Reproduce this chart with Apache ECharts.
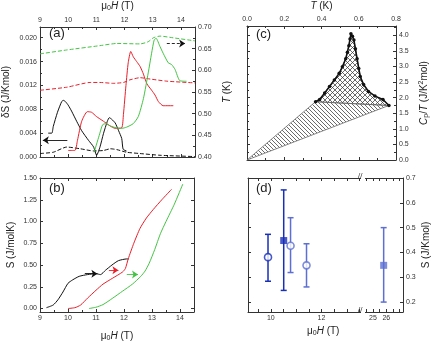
<!DOCTYPE html>
<html>
<head>
<meta charset="utf-8">
<script src="https://cdn.jsdelivr.net/npm/echarts@6.0.0/dist/echarts.min.js"></script>
<style>
html, body { margin: 0; padding: 0; background: #fff; }
#chart { width: 436px; height: 343px; }
</style>
</head>
<body>
<div id="chart"></div>
<script>
// ---- panel (a): entropy change dS (left) and sample temperature T (right) vs field
var aBlackH = [9.29, 9.42, 9.47, 9.62, 9.77, 9.83, 9.9, 10.0, 10.12, 10.3, 10.48, 10.72, 10.9, 11.01, 11.13, 11.25, 11.39, 11.46, 11.55, 11.67, 11.79, 11.9, 11.95, 12.07];
var aBlackS = [0.0040, 0.0040, 0.0051, 0.0075, 0.0093, 0.0095, 0.0093, 0.0087, 0.0077, 0.0060, 0.0044, 0.0028, 0.0017, 0.0003, 0.0017, 0.0039, 0.0060, 0.0066, 0.0063, 0.0057, 0.0044, 0.0031, 0.0013, 0.0010];
var aRedH = [10.0, 10.24, 10.33, 10.48, 10.68, 10.83, 11.0, 11.25, 11.49, 11.67, 11.9, 11.96, 12.05, 12.13, 12.22, 12.31, 12.43, 12.55, 12.67, 12.79, 12.96, 13.08, 13.2, 13.37, 13.73];
var aRedS = [0.0011, 0.0011, 0.0028, 0.0060, 0.0076, 0.0075, 0.0068, 0.0060, 0.0052, 0.0048, 0.0049, 0.0071, 0.0120, 0.0158, 0.0177, 0.0168, 0.0160, 0.0152, 0.0139, 0.0123, 0.0112, 0.0104, 0.0093, 0.0086, 0.0086];
var aGreenH = [10.92, 11.1, 11.22, 11.34, 11.5, 11.7, 11.9, 12.07, 12.31, 12.49, 12.67, 12.84, 12.96, 13.05, 13.12, 13.26, 13.37, 13.55, 13.67, 13.79, 13.96, 14.2];
var aGreenS = [0.0008, 0.0036, 0.0054, 0.0056, 0.0052, 0.0049, 0.0048, 0.0050, 0.0056, 0.0068, 0.0098, 0.0141, 0.0174, 0.0196, 0.0199, 0.0185, 0.0174, 0.0158, 0.0155, 0.0147, 0.0128, 0.0127];

var aGreenTH = [9.0, 9.95, 11.13, 11.73, 12.55, 12.84, 13.02, 13.26, 13.73, 14.5];
var aGreenT = [0.638, 0.647, 0.657, 0.662, 0.661, 0.666, 0.675, 0.679, 0.675, 0.668];
var aRedTH = [9.0, 9.95, 10.78, 11.13, 11.6, 11.96, 12.19, 12.55, 12.9, 13.5, 14.5];
var aRedT = [0.554, 0.561, 0.572, 0.572, 0.570, 0.572, 0.578, 0.583, 0.580, 0.575, 0.571];
var aBlackTH = [9.0, 9.47, 9.95, 10.43, 10.9, 11.25, 11.5, 11.73, 12.07, 12.55, 13.26, 14.5];
var aBlackT = [0.408, 0.411, 0.423, 0.419, 0.414, 0.415, 0.419, 0.417, 0.411, 0.408, 0.404, 0.401];

// ---- panel (b): integrated entropy S vs field
var bBlackH = [9.23, 9.47, 9.64, 9.82, 10.0, 10.17, 10.4, 10.7, 11.0, 11.16, 11.34, 11.57, 11.8, 12.1, 12.17];
var bBlackS = [0.01, 0.04, 0.10, 0.19, 0.29, 0.33, 0.37, 0.39, 0.40, 0.39, 0.44, 0.50, 0.55, 0.57, 0.57];
var bRedH = [10.0, 10.25, 10.45, 10.7, 11.0, 11.25, 11.6, 11.95, 12.05, 12.15, 12.35, 12.57, 12.8, 13.05, 13.35, 13.7];
var bRedS = [0.0, 0.01, 0.04, 0.12, 0.21, 0.28, 0.35, 0.42, 0.46, 0.57, 0.75, 0.92, 1.04, 1.14, 1.25, 1.37];
var bGreenH = [10.75, 11.0, 11.25, 11.6, 11.95, 12.3, 12.6, 12.75, 12.9, 13.1, 13.3, 13.5, 13.8, 14.1];
var bGreenS = [0.0, 0.015, 0.045, 0.12, 0.2, 0.28, 0.37, 0.43, 0.52, 0.68, 0.86, 1.0, 1.2, 1.43];

// ---- panel (c): Cp/T vs T around the transition
var cT = [0.368, 0.39, 0.417, 0.443, 0.469, 0.495, 0.512, 0.53, 0.539, 0.547, 0.553, 0.558, 0.566, 0.574, 0.582, 0.591, 0.600, 0.608, 0.626, 0.652, 0.687, 0.73, 0.762];
var cC = [1.87, 1.94, 2.15, 2.36, 2.57, 2.78, 2.99, 3.25, 3.46, 3.67, 3.88, 4.05, 3.97, 3.85, 3.57, 3.25, 2.94, 2.68, 2.42, 2.20, 2.05, 1.94, 1.75];
var cOrigin = [0, 0];

// ---- panel (d): entropy per field, with error bars
var dCircH = [9.89, 10.78, 11.41];
var dCircS = [0.381, 0.427, 0.348];
var dCircLo = [0.284, 0.319, 0.261];
var dCircHi = [0.473, 0.540, 0.435];
var dSqH = [10.51, 25.8];
var dSqS = [0.448, 0.348];
var dSqLo = [0.247, 0.200];
var dSqHi = [0.652, 0.500];

var bYTicks = [0, 0.25, 0.5, 0.75, 1.0, 1.25, 1.5];
var dYTicks = [0.2, 0.3, 0.4, 0.5, 0.6, 0.7];
var dXTicks1 = [10, 12];
var dXTicks2 = [25, 26];

var FONT = 'Liberation Sans';
var RED = '#e8202a', GREEN = '#44c444', BLACK = '#111';
var DARK = '#1830b8', LIGHT = '#5d6fd2';
var circColors = [DARK, LIGHT, LIGHT];
var sqColors = [DARK, LIGHT];

function zip(xs, ys) {
    return xs.map(function (x, i) { return [x, ys[i]]; });
}

function hatch(cross, size) {
    var c = document.createElement('canvas');
    c.width = size; c.height = size;
    var g = c.getContext('2d');
    g.strokeStyle = '#3a3a3a';
    g.lineWidth = 0.75;
    g.beginPath();
    g.moveTo(-1, -1); g.lineTo(size + 1, size + 1);
    g.moveTo(-1, size - 1); g.lineTo(1, size + 1);
    g.moveTo(size - 1, -1); g.lineTo(size + 1, 1);
    if (cross) {
        g.moveTo(size + 1, -1); g.lineTo(-1, size + 1);
        g.moveTo(1, -1); g.lineTo(-1, 1);
        g.moveTo(size + 1, size - 1); g.lineTo(size - 1, size + 1);
    }
    g.stroke();
    return c;
}

var tickLabel = {fontSize: 7, color: '#333', fontFamily: FONT, margin: 3};
var nameRich = {
    a: {fontSize: 10, fontFamily: FONT, color: '#222'},
    i: {fontSize: 10, fontFamily: FONT, fontStyle: 'italic', color: '#222'},
    s: {fontSize: 7, fontFamily: FONT, color: '#222', padding: [5, 0, 0, 0]},
    u: {fontSize: 7, fontFamily: FONT, color: '#222', padding: [0, 0, 5, 0]}
};
var fieldName = '{a|μ}{s|0}{i|H}{a| (T)}';

function axisBase(extra) {
    var o = {
        type: 'value',
        axisLine: {show: true, onZero: false, lineStyle: {color: '#333', width: 1}},
        axisTick: {show: true, inside: true, length: 3, lineStyle: {color: '#333'}},
        minorTick: {show: true, splitNumber: 2, length: 2, lineStyle: {color: '#333'}},
        splitLine: {show: false},
        axisLabel: Object.assign({}, tickLabel),
        nameTextStyle: {rich: nameRich, fontFamily: FONT, fontSize: 10, color: '#222'}
    };
    return Object.assign(o, extra);
}

function line(xi, yi, xs, ys, color, dashed) {
    return {
        type: 'line', xAxisIndex: xi, yAxisIndex: yi, data: zip(xs, ys),
        showSymbol: false, smooth: 0.2, silent: true,
        lineStyle: {color: color, width: 1, type: dashed ? [4, 2] : 'solid'}
    };
}

function arrow(xi, yi, p1, p2, color, dashed) {
    return {
        type: 'line', xAxisIndex: xi, yAxisIndex: yi, data: [], silent: true,
        markLine: {
            silent: true, animation: false,
            symbol: ['none', 'arrow'], symbolSize: 6,
            label: {show: false},
            lineStyle: {color: color, width: 0.9, type: dashed ? [3, 2] : 'solid'},
            data: [[{coord: p1}, {coord: p2}]]
        }
    };
}

var triangleSeries = {
    type: 'custom', xAxisIndex: 4, yAxisIndex: 5, data: [0], silent: true, z: 1,
    renderItem: function (params, api) {
        var pts = [api.coord(cOrigin), api.coord([cT[0], cC[0]]), api.coord([cT[cT.length - 1], cC[cC.length - 1]])];
        return {type: 'polygon', shape: {points: pts},
            style: {fill: {image: hatch(false, 4), repeat: 'repeat'}, stroke: '#6a6a6a', lineWidth: 0.8}};
    }
};
var cuspSeries = {
    type: 'custom', xAxisIndex: 4, yAxisIndex: 5, data: [0], silent: true, z: 1,
    renderItem: function (params, api) {
        var pts = cT.map(function (t, i) { return api.coord([t, cC[i]]); });
        return {type: 'polygon', shape: {points: pts},
            style: {fill: {image: hatch(true, 5), repeat: 'repeat'}, stroke: '#6a6a6a', lineWidth: 0.8}};
    }
};

function errorBars(xi, yi, xs, ss, lo, hi, colors) {
    return {
        type: 'custom', xAxisIndex: xi, yAxisIndex: yi, silent: true, z: 2,
        data: xs.map(function (x, i) {
            return {value: [x, ss[i], lo[i], hi[i]], itemStyle: {color: colors[i]}};
        }),
        renderItem: function (params, api) {
            var x = api.value(0);
            var top = api.coord([x, api.value(3)]);
            var bot = api.coord([x, api.value(2)]);
            var col = api.visual('color');
            var st = {stroke: col, lineWidth: 1.5};
            return {type: 'group', children: [
                {type: 'line', shape: {x1: top[0], y1: top[1], x2: bot[0], y2: bot[1]}, style: st},
                {type: 'line', shape: {x1: top[0] - 3, y1: top[1], x2: top[0] + 3, y2: top[1]}, style: st},
                {type: 'line', shape: {x1: bot[0] - 3, y1: bot[1], x2: bot[0] + 3, y2: bot[1]}, style: st}
            ]};
        }
    };
}

function points(xi, yi, xs, ss, colors, symbol) {
    return {
        type: 'scatter', xAxisIndex: xi, yAxisIndex: yi, silent: true, z: 3,
        symbol: symbol, symbolSize: symbol === 'circle' ? 7 : 7,
        data: xs.map(function (x, i) {
            var st = symbol === 'circle'
                ? {color: '#fff', borderColor: colors[i], borderWidth: 1.6}
                : {color: colors[i]};
            return {value: [x, ss[i]], itemStyle: st};
        })
    };
}

var chart = echarts.init(document.getElementById('chart'), null, {renderer: 'canvas'});

var noMax = Object.assign({}, tickLabel, {showMaxLabel: false});

var option = {
    animation: false,
    backgroundColor: '#fff',
    textStyle: {fontFamily: FONT},
    grid: [
        {left: 40, top: 23, width: 155, height: 134},
        {left: 40, top: 178, width: 154, height: 135},
        {left: 247, top: 23, width: 149, height: 137},
        {left: 248, top: 178, width: 115, height: 134},
        {left: 363, top: 178, width: 40, height: 134}
    ],
    xAxis: [
        axisBase({gridIndex: 0, position: 'top', min: 9, max: 14.5, interval: 1, axisLabel: noMax,
            name: fieldName, nameLocation: 'middle', nameGap: 15}),
        axisBase({gridIndex: 0, position: 'bottom', min: 9, max: 14.5, interval: 1, axisLabel: {show: false}}),
        axisBase({gridIndex: 1, position: 'bottom', min: 9, max: 14.5, interval: 1, axisLabel: noMax,
            name: fieldName, nameLocation: 'middle', nameGap: 18}),
        axisBase({gridIndex: 1, position: 'top', min: 9, max: 14.5, interval: 1, axisLabel: {show: false}}),
        axisBase({gridIndex: 2, position: 'top', min: 0, max: 0.8, interval: 0.2,
            axisLabel: Object.assign({}, tickLabel, {formatter: function (v) { return v.toFixed(1); }}),
            name: '{i|T}{a| (K)}', nameLocation: 'middle', nameGap: 15}),
        axisBase({gridIndex: 2, position: 'bottom', min: 0, max: 0.8, interval: 0.2, axisLabel: {show: false}}),
        axisBase({gridIndex: 3, position: 'bottom', min: 9.1, max: 13.64, minorTick: {show: false},
            axisTick: {show: true, inside: true, length: 3, customValues: [9.5, 10, 10.5, 11, 11.5, 12, 12.5, 13, 13.5], lineStyle: {color: '#333'}},
            axisLabel: Object.assign({}, tickLabel, {customValues: dXTicks1})}),
        axisBase({gridIndex: 3, position: 'top', min: 9.1, max: 13.64, minorTick: {show: false},
            axisTick: {show: true, inside: true, length: 3, customValues: [9.5, 10, 10.5, 11, 11.5, 12, 12.5, 13, 13.5], lineStyle: {color: '#333'}},
            axisLabel: {show: false}}),
        axisBase({gridIndex: 4, position: 'bottom', min: 24.25, max: 27.25, minorTick: {show: false},
            axisTick: {show: true, inside: true, length: 3, customValues: [24.5, 25, 25.5, 26, 26.5, 27], lineStyle: {color: '#333'}},
            axisLabel: Object.assign({}, tickLabel, {customValues: dXTicks2})}),
        axisBase({gridIndex: 4, position: 'top', min: 24.25, max: 27.25, minorTick: {show: false},
            axisTick: {show: true, inside: true, length: 3, customValues: [24.5, 25, 25.5, 26, 26.5, 27], lineStyle: {color: '#333'}},
            axisLabel: {show: false}})
    ],
    yAxis: [
        axisBase({gridIndex: 0, position: 'left', min: 0, max: 0.0218, interval: 0.004,
            axisLabel: Object.assign({}, noMax, {formatter: function (v) { return v.toFixed(3); }}),
            name: '{a|δS (J/Kmol)}', nameLocation: 'middle', nameGap: 29, nameRotate: 90}),
        axisBase({gridIndex: 0, position: 'right', min: 0.40, max: 0.70, interval: 0.05,
            axisLabel: Object.assign({}, tickLabel, {formatter: function (v) { return v.toFixed(2); }}),
            name: '{i|T}{a| (K)}', nameLocation: 'middle', nameGap: 27, nameRotate: 90}),
        axisBase({gridIndex: 1, position: 'left', min: -0.04, max: 1.5, minorTick: {show: false},
            axisTick: {show: true, inside: true, length: 3, customValues: bYTicks, lineStyle: {color: '#333'}},
            axisLabel: Object.assign({}, tickLabel, {customValues: bYTicks, formatter: function (v) { return v.toFixed(2); }}),
            name: '{a|S (J/molK)}', nameLocation: 'middle', nameGap: 24, nameRotate: 90}),
        axisBase({gridIndex: 1, position: 'right', min: -0.04, max: 1.5, minorTick: {show: false},
            axisTick: {show: true, inside: true, length: 3, customValues: bYTicks, lineStyle: {color: '#333'}},
            axisLabel: {show: false}}),
        axisBase({gridIndex: 2, position: 'left', min: 0, max: 4.3, interval: 0.5, axisLabel: {show: false}}),
        axisBase({gridIndex: 2, position: 'right', min: 0, max: 4.3, interval: 0.5,
            axisLabel: Object.assign({}, noMax, {formatter: function (v) { return v.toFixed(1); }}),
            name: '{i|C}{s|p}{a|/}{i|T}{a| (J/K}{u|2}{a|mol)}', nameLocation: 'middle', nameGap: 22, nameRotate: 90}),
        axisBase({gridIndex: 3, position: 'left', min: 0.16, max: 0.7, minorTick: {show: false},
            axisTick: {show: true, inside: true, length: 3, customValues: dYTicks, lineStyle: {color: '#333'}},
            axisLabel: {show: false}}),
        axisBase({gridIndex: 4, position: 'right', min: 0.16, max: 0.7, minorTick: {show: false},
            axisTick: {show: true, inside: true, length: 3, customValues: dYTicks, lineStyle: {color: '#333'}},
            axisLabel: Object.assign({}, tickLabel, {customValues: dYTicks, formatter: function (v) { return v.toFixed(1); }}),
            name: '{a|S (J/Kmol)}', nameLocation: 'middle', nameGap: 18, nameRotate: 90})
    ],
    series: [
        line(0, 1, aGreenTH, aGreenT, GREEN, true),
        line(0, 1, aRedTH, aRedT, RED, true),
        line(0, 1, aBlackTH, aBlackT, BLACK, true),
        line(0, 0, aBlackH, aBlackS, BLACK, false),
        line(0, 0, aRedH, aRedS, RED, false),
        line(0, 0, aGreenH, aGreenS, GREEN, false),
        arrow(0, 0, [9.97, 0.0028], [9.1, 0.0028], BLACK, false),
        arrow(0, 1, [13.5, 0.662], [14.15, 0.662], BLACK, true),

        line(2, 2, bBlackH, bBlackS, BLACK, false),
        line(2, 2, bRedH, bRedS, RED, false),
        line(2, 2, bGreenH, bGreenS, GREEN, false),
        arrow(2, 2, [10.6, 0.40], [11.05, 0.40], BLACK, false),
        arrow(2, 2, [11.46, 0.44], [11.8, 0.44], RED, false),
        arrow(2, 2, [12.1, 0.39], [12.5, 0.39], GREEN, false),

        triangleSeries,
        cuspSeries,
        {
            type: 'line', xAxisIndex: 4, yAxisIndex: 5, data: zip(cT, cC), silent: true, z: 3,
            symbol: 'circle', symbolSize: 3.5, showSymbol: true,
            itemStyle: {color: BLACK}, lineStyle: {color: BLACK, width: 1.6}
        },

        errorBars(6, 6, dCircH, dCircS, dCircLo, dCircHi, circColors),
        errorBars(6, 6, dSqH.slice(0, 1), dSqS.slice(0, 1), dSqLo.slice(0, 1), dSqHi.slice(0, 1), sqColors.slice(0, 1)),
        errorBars(8, 7, dSqH.slice(1), dSqS.slice(1), dSqLo.slice(1), dSqHi.slice(1), sqColors.slice(1)),
        points(6, 6, dCircH, dCircS, circColors, 'circle'),
        points(6, 6, dSqH.slice(0, 1), dSqS.slice(0, 1), sqColors.slice(0, 1), 'rect'),
        points(8, 7, dSqH.slice(1), dSqS.slice(1), sqColors.slice(1), 'rect')
    ],
    graphic: [
        {type: 'text', left: 49, top: 27, z: 100, style: {text: '(a)', font: '13px ' + FONT, fill: '#222'}},
        {type: 'text', left: 49, top: 182, z: 100, style: {text: '(b)', font: '13px ' + FONT, fill: '#222'}},
        {type: 'text', left: 256, top: 28, z: 100, style: {text: '(c)', font: '13px ' + FONT, fill: '#222'}},
        {type: 'text', left: 256, top: 182, z: 100, style: {text: '(d)', font: '13px ' + FONT, fill: '#222'}},
        {type: 'rect', left: 361, top: 175, z: 100, shape: {width: 4, height: 6}, style: {fill: '#fff'}},
        {type: 'rect', left: 361, top: 309, z: 100, shape: {width: 4, height: 6}, style: {fill: '#fff'}},
        {type: 'text', left: 358, top: 172, z: 101, style: {text: '//', font: '8px ' + FONT, fill: '#333'}},
        {type: 'text', left: 358, top: 306, z: 101, style: {text: '//', font: '8px ' + FONT, fill: '#333'}},
        {type: 'text', left: 307, top: 326, z: 100, style: {
            text: fieldName, fill: '#222',
            rich: nameRich
        }}
    ]
};

chart.setOption(option);
</script>
</body>
</html>
